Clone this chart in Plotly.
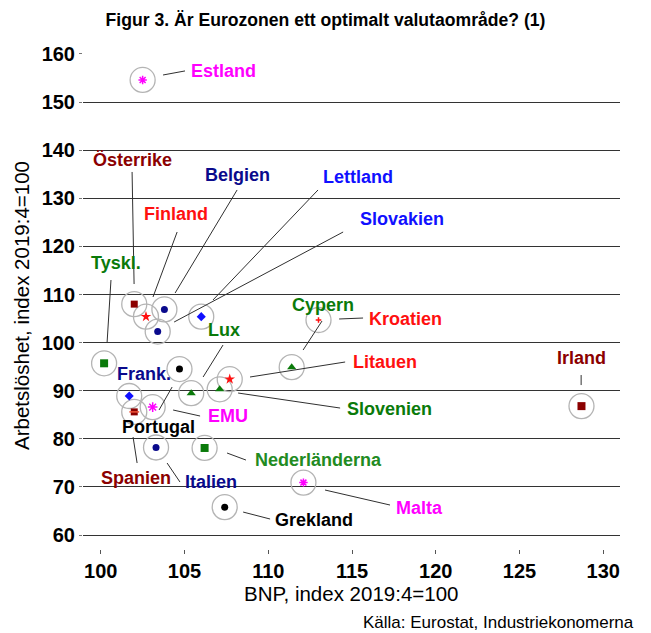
import plotly.graph_objects as go

# Länder, BNP- och arbetslöshetsindex (2019:4 = 100)
countries = ["Estland", "Österrike", "Finland", "Belgien", "Slovakien", "Lettland",
             "Tyskl.", "Frank.", "Portugal", "Spanien", "EMU", "Lux", "Slovenien",
             "Litauen", "Cypern", "Kroatien", "Irland", "Nederländerna", "Malta",
             "Italien", "Grekland"]
gdp = [102.5, 102.0, 102.7, 103.8, 103.4, 106.0,
       100.2, 101.7, 104.7, 102.0, 103.1, 105.4, 107.1,
       107.7, 111.4, 113.0, 128.7, 106.2, 112.1,
       103.3, 107.4]
unemployment = [154.6, 108.0, 105.4, 106.9, 102.3, 105.4,
                95.7, 88.9, 94.5, 85.6, 86.6, 89.5, 90.3,
                92.4, 94.9, 104.7, 86.8, 78.1, 70.9,
                78.2, 65.8]

x_ticks = [100, 105, 110, 115, 120, 125, 130]
y_ticks = [60, 70, 80, 90, 100, 110, 120, 130, 140, 150, 160]

# Marker style per country: (symbol, colour, size)
NAVY, BLUE, DRED, RED, GREEN, MAG, BLK = "#0a0a8c", "#1010ff", "#8b0000", "#ff1010", "#0a7a0a", "#ff00ff", "#000000"
style = {
    "Estland": ("asterisk-open", MAG, 7), "Österrike": ("square", DRED, 7),
    "Finland": ("star", RED, 8), "Belgien": ("circle", NAVY, 7),
    "Slovakien": ("circle", NAVY, 7), "Lettland": ("diamond", BLUE, 7),
    "Tyskl.": ("square", GREEN, 8), "Frank.": ("diamond", BLUE, 7),
    "Portugal": ("circle", BLK, 7), "Spanien": ("square", DRED, 7),
    "EMU": ("asterisk-open", MAG, 8), "Lux": ("triangle-up", GREEN, 8),
    "Slovenien": ("triangle-up", GREEN, 8), "Litauen": ("star", RED, 8),
    "Cypern": ("triangle-up", GREEN, 8), "Kroatien": ("cross-thin-open", RED, 4),
    "Irland": ("square", DRED, 8), "Nederländerna": ("square", GREEN, 8),
    "Malta": ("asterisk-open", MAG, 7), "Italien": ("circle", NAVY, 7),
    "Grekland": ("circle", BLK, 7),
}
label_colour = {
    "Estland": MAG, "Österrike": DRED, "Finland": RED, "Belgien": NAVY,
    "Slovakien": BLUE, "Lettland": BLUE, "Tyskl.": GREEN, "Frank.": NAVY,
    "Portugal": BLK, "Spanien": DRED, "EMU": MAG, "Lux": GREEN,
    "Slovenien": GREEN, "Litauen": RED, "Cypern": GREEN, "Kroatien": RED,
    "Irland": DRED, "Nederländerna": "#228b22", "Malta": MAG, "Italien": NAVY,
    "Grekland": BLK,
}

# Label placement (data units) and leader segments
label_pos = {
    "Estland": (107.30, 156.5), "Österrike": (101.87, 138.0), "Belgien": (108.14, 134.8),
    "Finland": (104.50, 126.7), "Lettland": (115.36, 134.4), "Slovakien": (117.99, 125.7),
    "Tyskl.": (100.91, 116.5), "Cypern": (113.27, 107.8), "Kroatien": (118.20, 105.0),
    "Lux": (107.33, 102.6), "Litauen": (116.96, 96.0), "Irland": (128.69, 96.7),
    "Frank.": (102.59, 93.5), "EMU": (107.60, 84.7), "Slovenien": (117.21, 86.3),
    "Portugal": (103.44, 82.5), "Spanien": (102.11, 71.8), "Italien": (106.59, 71.1),
    "Nederländerna": (112.97, 75.6), "Malta": (119.00, 65.6), "Grekland": (112.73, 63.1),
}
leaders = {
    "Estland": ((103.72, 155.63), (105.03, 156.47)),
    "Österrike": ((101.87, 135.47), (101.99, 112.18)),
    "Belgien": ((108.14, 131.73), (104.44, 110.31)),
    "Finland": ((104.56, 122.99), (103.12, 109.48)),
    "Lettland": ((112.97, 131.73), (106.70, 108.86)),
    "Slovakien": ((114.47, 122.99), (104.38, 104.28)),
    "Tyskl.": ((100.61, 113.01), (100.38, 100.12)),
    "Cypern": ((113.21, 104.49), (112.08, 98.46)),
    "Kroatien": ((114.23, 104.91), (115.66, 105.11)),
    "Lux": ((107.30, 99.50), (106.11, 92.85)),
    "Litauen": ((114.59, 95.97), (108.91, 92.85)),
    "Irland": ((128.68, 93.26), (128.68, 91.18)),
    "EMU": ((104.32, 85.99), (105.93, 84.74)),
    "Portugal": ((104.26, 90.77), (103.48, 85.99)),
    "Slovenien": ((108.20, 89.52), (114.29, 86.40)),
    "Spanien": ((101.93, 80.37), (102.17, 74.97)),
    "Italien": ((103.96, 74.97), (104.73, 71.02)),
    "Nederländerna": ((107.54, 77.05), (108.67, 75.59)),
    "Malta": ((113.39, 69.36), (117.27, 66.24)),
    "Grekland": ((108.50, 64.78), (110.11, 63.33)),
}

FONT = "Liberation Sans, Arial, sans-serif"

fig = go.Figure()

# Grey rings around each observation
fig.add_trace(go.Scatter(
    x=gdp, y=unemployment, mode="markers", hoverinfo="skip",
    marker=dict(symbol="circle-open", size=25, color="#b4b4b4", line=dict(width=1.3)),
))

# Country markers
for name, gx, uy in zip(countries, gdp, unemployment):
    sym, col, sz = style[name]
    fig.add_trace(go.Scatter(
        x=[gx], y=[uy], mode="markers", name=name,
        marker=dict(symbol=sym, size=sz, color=col, line=dict(color=col, width=1.5 if "open" in sym else 0)),
    ))
    if name == "Spanien":
        fig.add_trace(go.Scatter(
            x=[gx], y=[uy], mode="markers", hoverinfo="skip",
            marker=dict(symbol="line-ew-open", size=7, line=dict(color="white", width=1.5)),
        ))

# Leader lines and labels
for name in countries:
    if name in leaders:
        (x0, y0), (x1, y1) = leaders[name]
        fig.add_shape(type="line", xref="x", yref="y", x0=x0, y0=y0, x1=x1, y1=y1,
                      line=dict(color="#303030", width=1))
    lx, ly = label_pos[name]
    fig.add_annotation(x=lx, y=ly, xref="x", yref="y", text=f"<b>{name}</b>",
                       showarrow=False, xanchor="center", yanchor="middle",
                       font=dict(family=FONT, size=18, color=label_colour[name]))

# Axis titles and source
fig.add_annotation(x=-0.1136, y=0.492, xref="paper", yref="paper", textangle=-90,
                   xanchor="center", yanchor="middle",
                   text="Arbetslöshet, index 2019:4=100", showarrow=False,
                   font=dict(family=FONT, size=20.5, color="black"))
fig.add_annotation(x=0.499, y=-0.0907, xref="paper", yref="paper",
                   xanchor="center", yanchor="middle",
                   text="BNP, index 2019:4=100", showarrow=False,
                   font=dict(family=FONT, size=20.5, color="black"))
fig.add_annotation(x=1.0298, y=-0.149, xref="paper", yref="paper",
                   xanchor="right", yanchor="middle",
                   text="Källa: Eurostat, Industriekonomerna", showarrow=False,
                   font=dict(family=FONT, size=17, color="black"))

fig.update_layout(
    width=651, height=633,
    margin=dict(l=83, r=31, t=53, b=84),
    paper_bgcolor="white", plot_bgcolor="white",
    showlegend=False,
    title=dict(text="<b>Figur 3. Är Eurozonen ett optimalt valutaområde? (1)</b>",
               x=0.5, xref="container", y=1 - 20 / 633, yref="container",
               xanchor="center", yanchor="middle",
               font=dict(family=FONT, size=17.6, color="black")),
    xaxis=dict(range=[98.94, 131.0], tickvals=x_ticks, showgrid=False, zeroline=False,
               showline=False, ticks="outside", ticklen=4, tickcolor="#555",
               tickfont=dict(family=FONT, size=20, color="black", weight="bold")),
    yaxis=dict(range=[57.1, 160.2], tickvals=y_ticks, showgrid=True, gridcolor="#333",
               gridwidth=1.3, zeroline=False, showline=False, ticks="outside",
               ticklen=3, tickcolor="#777",
               tickfont=dict(family=FONT, size=20, color="black", weight="bold")),
)

fig.write_html("out.html")
